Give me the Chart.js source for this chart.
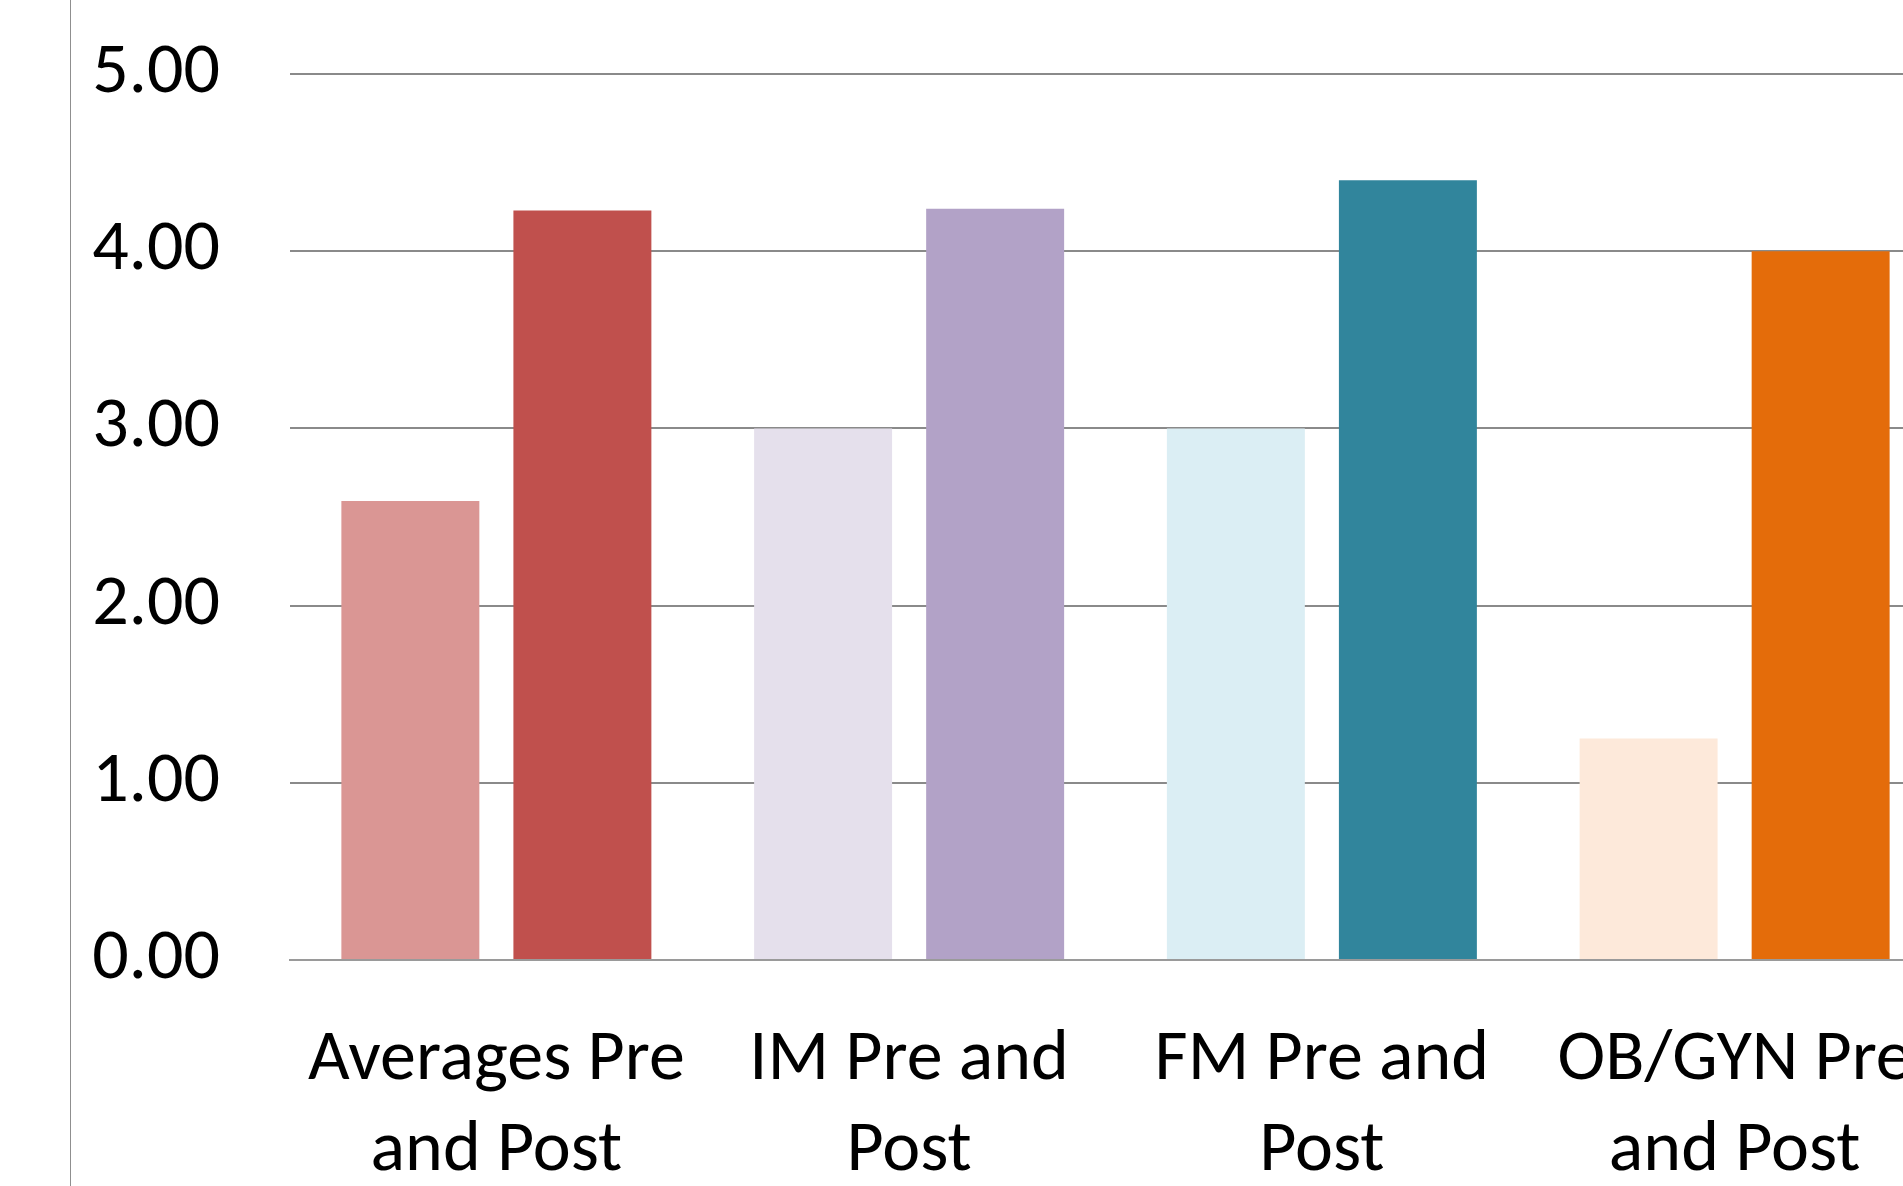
<!DOCTYPE html>
<html>
<head>
<meta charset="utf-8">
<title>Pre and Post Scores</title>
<script src="https://cdn.jsdelivr.net/npm/chart.js@4.4.1/dist/chart.umd.min.js"></script>
<style>
  html, body { margin: 0; padding: 0; background: #ffffff; overflow: hidden; width: 1903px; height: 1186px; }
  #frame { position: absolute; left: 0; top: 0; width: 1903px; height: 1186px; overflow: hidden; }
  #frame canvas { position: absolute; left: 0; top: 0; }
  #edge { position: absolute; left: 70px; top: 0; width: 1px; height: 1186px; background: #8f8f8f; }
</style>
</head>
<body>
<div id="frame">
  <canvas id="scores" width="2000" height="1186" style="width:2000px;height:1186px"></canvas>
  <div id="edge"></div>
</div>
<script>
// Category labels (two lines each)
const categories = [
  ["Averages Pre", "and Post"],
  ["IM Pre and", "Post"],
  ["FM Pre and", "Post"],
  ["OB/GYN Pre", "and Post"]
];

// Mean scores before and after
const preScores  = [2.59, 3.00, 3.00, 1.25];
const postScores = [4.23, 4.24, 4.40, 4.00];

// Value axis ticks
const yTickValues = [0, 1, 2, 3, 4, 5];

// Per-category colours: light shade for "pre", strong shade for "post"
const preColors  = ["#DA9694", "#E5E0EC", "#DBEEF4", "#FDE9DA"];
const postColors = ["#C0504D", "#B2A2C7", "#31859C", "#E46C0A"];

const FONT = "Carlito, Calibri, Lato, sans-serif";

new Chart(document.getElementById("scores"), {
  type: "bar",
  data: {
    labels: categories,
    datasets: [
      { label: "Pre",  data: preScores,  backgroundColor: preColors,  borderWidth: 0 },
      { label: "Post", data: postScores, backgroundColor: postColors, borderWidth: 0 }
    ]
  },
  options: {
    responsive: false,
    animation: false,
    devicePixelRatio: 1,
    layout: { padding: { top: 74, right: 59, bottom: 0, left: 0 } },
    plugins: {
      legend: { display: false },
      tooltip: { enabled: false },
      title: { display: false }
    },
    datasets: {
      bar: { categoryPercentage: 0.8336, barPercentage: 0.802 }
    },
    scales: {
      x: {
        grid: { display: false, drawTicks: false },
        border: { display: true, color: "#9a9a9a", width: 2 },
        ticks: {
          color: "#000000",
          padding: 55,
          maxRotation: 0,
          autoSkip: false,
          font: { family: FONT, size: 72, lineHeight: 1.264 }
        },
        afterFit: (scale) => { scale.height = 226; }
      },
      y: {
        min: 0,
        max: 5,
        afterBuildTicks: (scale) => { scale.ticks = yTickValues.map(v => ({ value: v })); },
        grid: { color: "#8a8a8a", lineWidth: 2, drawTicks: false },
        border: { display: false },
        ticks: {
          color: "#000000",
          padding: 70,
          font: { family: FONT, size: 72 },
          callback: (v) => Number(v).toFixed(2)
        },
        afterFit: (scale) => {
          scale.width = 290;
          scale.paddingTop = 0;
          scale.paddingBottom = 0;
        }
      }
    }
  }
});
</script>
</body>
</html>
